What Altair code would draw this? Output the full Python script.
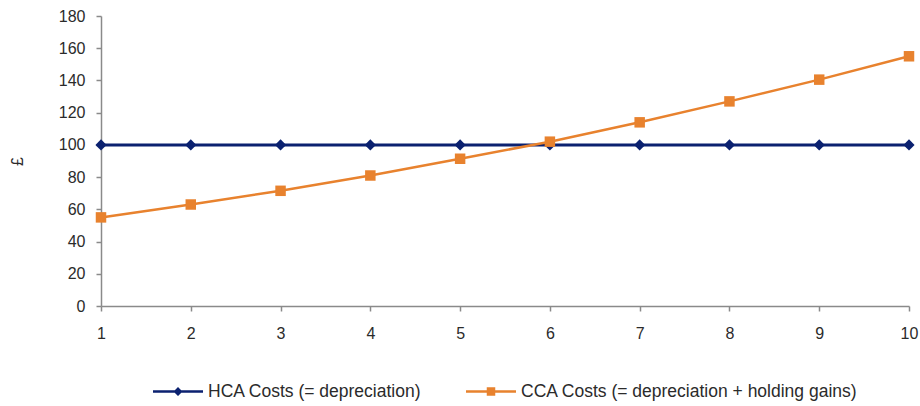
import altair as alt
import pandas as pd

# Years along the horizontal axis
years = [1, 2, 3, 4, 5, 6, 7, 8, 9, 10]

# Historical cost accounting: depreciation only (flat)
hca_costs = [100, 100, 100, 100, 100, 100, 100, 100, 100, 100]

# Current cost accounting: depreciation plus holding gains
cca_costs = [55, 63, 71.5, 81, 91.4, 102, 114, 127, 140.5, 155]

y_ticks = [0, 20, 40, 60, 80, 100, 120, 140, 160, 180]

HCA_LABEL = "HCA Costs (= depreciation)"
CCA_LABEL = "CCA Costs (= depreciation + holding gains)"

NAVY = "#0b2170"
ORANGE = "#e8822e"
FONT = "Liberation Sans"
TEXT = "#2b2b2b"
AXIS_GREY = "#8a8a8a"

hca_df = pd.DataFrame({"year": years, "cost": hca_costs, "series": HCA_LABEL})
cca_df = pd.DataFrame({"year": years, "cost": cca_costs, "series": CCA_LABEL})

x_enc = alt.X(
    "year:Q",
    scale=alt.Scale(domain=[1, 10], nice=False, zero=False),
    axis=alt.Axis(
        values=years, format="d", title=None, grid=False,
        tickSize=5, labelPadding=14, labelFlush=False,
    ),
)
y_enc = alt.Y(
    "cost:Q",
    scale=alt.Scale(domain=[0, 180], nice=False),
    axis=alt.Axis(
        values=y_ticks, title="£", grid=False,
        tickSize=5, labelPadding=11, labelFlush=False,
        titleAngle=-90, titleX=-84, titleY=145,
        titleAlign="center", titleBaseline="middle",
        titleFontWeight="normal", titleFontSize=16,
    ),
)

# Legend swatches: a short bar with the series marker in the middle
HCA_SYMBOL = "M-1,-0.05H1V0.05H-1Z M-0.18,0L0,-0.18L0.18,0L0,0.18Z"
CCA_SYMBOL = "M-1,-0.05H1V0.05H-1Z M-0.17,-0.17H0.17V0.17H-0.17Z"


def legend(symbol, x):
    return alt.Legend(
        title=None, orient="none", legendX=x, legendY=350.5,
        symbolType=symbol, symbolSize=2500, symbolStrokeWidth=0,
        symbolOpacity=1, labelOffset=5, labelLimit=600,
        labelFont=FONT, labelFontSize=17.5, labelColor=TEXT, padding=0,
    )


hca_line = alt.Chart(hca_df).mark_line(color=NAVY, strokeWidth=3).encode(x=x_enc, y=y_enc)
hca_pts = alt.Chart(hca_df).mark_point(
    shape="diamond", filled=True, size=125, opacity=1
).encode(
    x=x_enc, y=y_enc,
    color=alt.Color("series:N", scale=alt.Scale(domain=[HCA_LABEL], range=[NAVY]),
                    legend=legend(HCA_SYMBOL, 52)),
)

cca_line = alt.Chart(cca_df).mark_line(color=ORANGE, strokeWidth=2.5).encode(x=x_enc, y=y_enc)
cca_pts = alt.Chart(cca_df).mark_point(
    shape="square", filled=True, size=110, opacity=1
).encode(
    x=x_enc, y=y_enc,
    color=alt.Color("series:N", scale=alt.Scale(domain=[CCA_LABEL], range=[ORANGE]),
                    legend=legend(CCA_SYMBOL, 365)),
)

chart = (
    alt.layer(hca_line, hca_pts, cca_line, cca_pts)
    .resolve_scale(color="independent")
    .properties(
        width=808, height=290,
        autosize=alt.AutoSizeParams(type="none"),
        padding={"left": 101, "top": 16, "right": 11, "bottom": 100},
        background="white",
    )
    .configure_view(stroke=None)
    .configure_axis(
        domainColor=AXIS_GREY, tickColor=AXIS_GREY, domainWidth=1.5, tickWidth=1.5,
        labelFont=FONT, labelFontSize=16, labelColor=TEXT,
        titleFont=FONT, titleColor=TEXT,
    )
)

chart.save("out.html", embed_options={"renderer": "svg", "actions": False})
